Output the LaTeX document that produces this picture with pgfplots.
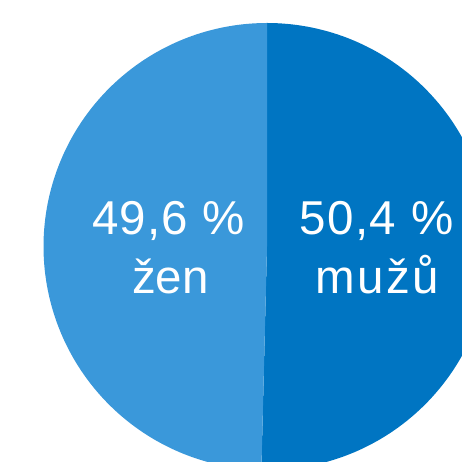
\documentclass[border=0pt]{standalone}
\usepackage{pgfplots}
\pgfplotsset{compat=1.18}
\usepackage{fontspec}
\setmainfont{Liberation Sans}
\definecolor{menc}{RGB}{0,117,194}
\definecolor{womenc}{RGB}{58,152,218}
\begin{document}
\begin{tikzpicture}
% data: share of men and women (percent)
\pgfmathsetmacro{\men}{50.4}
\pgfmathsetmacro{\women}{49.6}
\pgfmathsetmacro{\aStart}{90}
\pgfmathsetmacro{\aMid}{90-3.6*\men}
\pgfmathsetmacro{\aEnd}{\aMid-3.6*\women}
\begin{axis}[name=ax,width=462pt,height=462pt,scale only axis,
  xmin=0,xmax=462,ymin=0,ymax=462,hide axis,clip=true]
\addplot[draw=none,fill=menc,domain=\aMid:\aStart,samples=200]
  ({267+223.5*cos(x)},{215.5+223.5*sin(x)}) -- (axis cs:267,215.5) -- cycle;
\addplot[draw=none,fill=womenc,domain=\aEnd:\aMid,samples=200]
  ({267+223.5*cos(x)},{215.5+223.5*sin(x)}) -- (axis cs:267,215.5) -- cycle;
\node[white,font=\fontsize{47.5}{55}\selectfont,anchor=base] at (axis cs:168.5,227) {\addfontfeature{LetterSpace=2}49,6\hspace{0.3em}\%};
\node[white,font=\fontsize{47.5}{55}\selectfont,anchor=base] at (axis cs:170.5,168) {žen};
\node[white,font=\fontsize{47.5}{55}\selectfont,anchor=base] at (axis cs:376.5,227) {\addfontfeature{LetterSpace=3}50,4\hspace{0.32em}\%};
\node[white,font=\fontsize{47.5}{55}\selectfont,anchor=base] at (axis cs:377,168) {\addfontfeature{LetterSpace=5}mužů};
\end{axis}
\pgfresetboundingbox
\path[use as bounding box] (ax.south west) rectangle (ax.north east);
\end{tikzpicture}
\end{document}
